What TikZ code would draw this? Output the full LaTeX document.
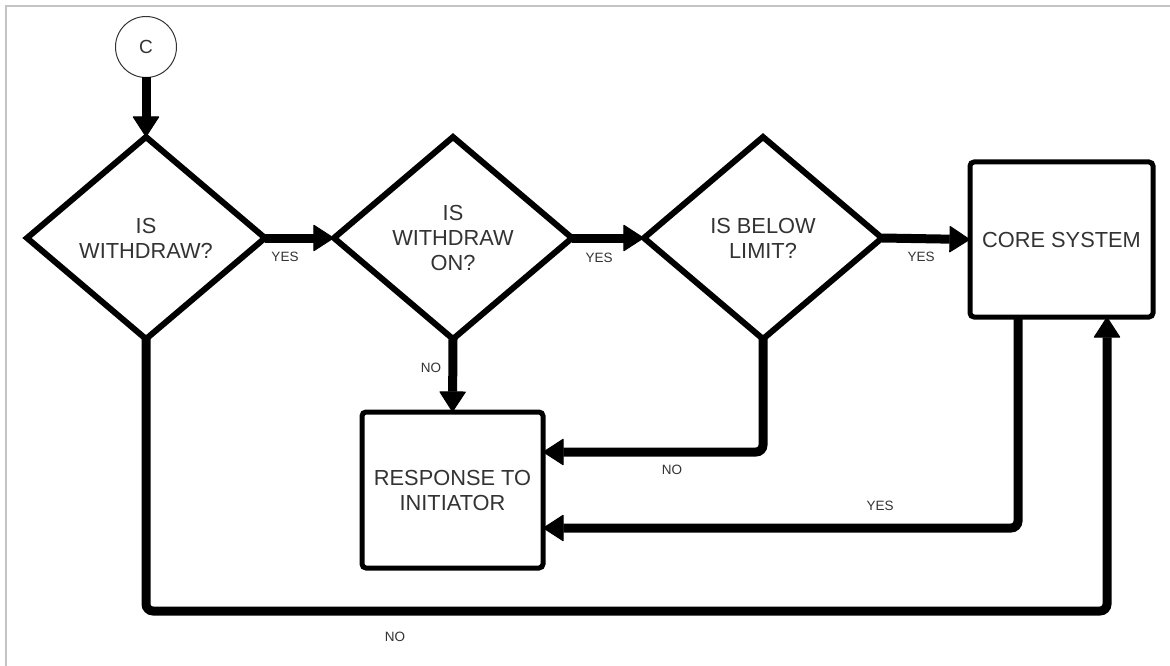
\documentclass[tikz,border=0pt]{standalone}
\usepackage{fontspec}
\setmainfont{Liberation Sans}
\usetikzlibrary{shapes.geometric,arrows.meta}
\definecolor{txt}{HTML}{333333}
\definecolor{framec}{HTML}{C4C4C4}
\begin{document}
\begin{tikzpicture}[x=1pt,y=-1pt,
  decision/.style={diamond, draw, line width=6pt, aspect=1.2, minimum width=238pt, minimum height=202pt, inner sep=0pt, outer sep=0pt, align=center, text=txt, font=\fontsize{21.8}{25}\selectfont},
  process/.style={rectangle, draw, line width=5pt, rounded corners=4pt, inner sep=0pt, outer sep=0pt, align=center, text=txt, font=\fontsize{21.8}{25}\selectfont},
  conn/.style={line width=9pt, rounded corners=7pt, -{Triangle[length=21pt,width=27pt,line width=1pt,round]}},
  lbl/.style={text=txt, font=\fontsize{13.5}{16}\selectfont, inner sep=0pt}]
\useasboundingbox (0,0) rectangle (1170,666);
\fill[white] (0,0) rectangle (1170,666);
\draw[framec, line width=2pt] (6,666) -- (6,6) -- (1170,6);

\node[circle, draw=black!80, line width=1pt, minimum size=61pt, inner sep=0pt, outer sep=0pt, text=txt, font=\fontsize{19}{21}\selectfont] (c) at (146,47) {C};
\node[decision] (d1) at (146,238) {IS\\WITHDRAW?};
\node[decision] (d2) at (453,238) {IS\\WITHDRAW\\ON?};
\node[decision] (d3) at (763,238) {IS BELOW\\LIMIT?};
\node[process, minimum width=183pt, minimum height=155pt] (core) at (1061.5,239.5) {CORE SYSTEM};
\node[process, minimum width=181pt, minimum height=156pt] (resp) at (452.5,490) {RESPONSE TO\\INITIATOR};

\draw[conn] (c.south) -- (d1.north);
\draw[conn] (d1.east) -- (d2.west);
\draw[conn] (d2.east) -- (d3.west);
\draw[conn] (d3.east) -- (core.west);
\draw[conn] (d2.south) -- (resp.north);
\draw[conn] (d3.south) |- ([yshift=38pt]resp.east);
\draw[conn] ([xshift=-43.5pt]core.south) |- ([yshift=-38pt]resp.east);
\draw[conn] (d1.south) -- ++(0,272) -| ([xshift=45.5pt]core.south);

\node[lbl] (l1) at (285,257) {YES};
\node[lbl] (l2) at (599,258) {YES};
\node[lbl] (l3) at (921,257) {YES};
\node[lbl] (l4) at (431,368) {NO};
\node[lbl] (l5) at (672,470) {NO};
\node[lbl] (l6) at (880,506) {YES};
\node[lbl] (l7) at (395,637) {NO};
\end{tikzpicture}
\end{document}
